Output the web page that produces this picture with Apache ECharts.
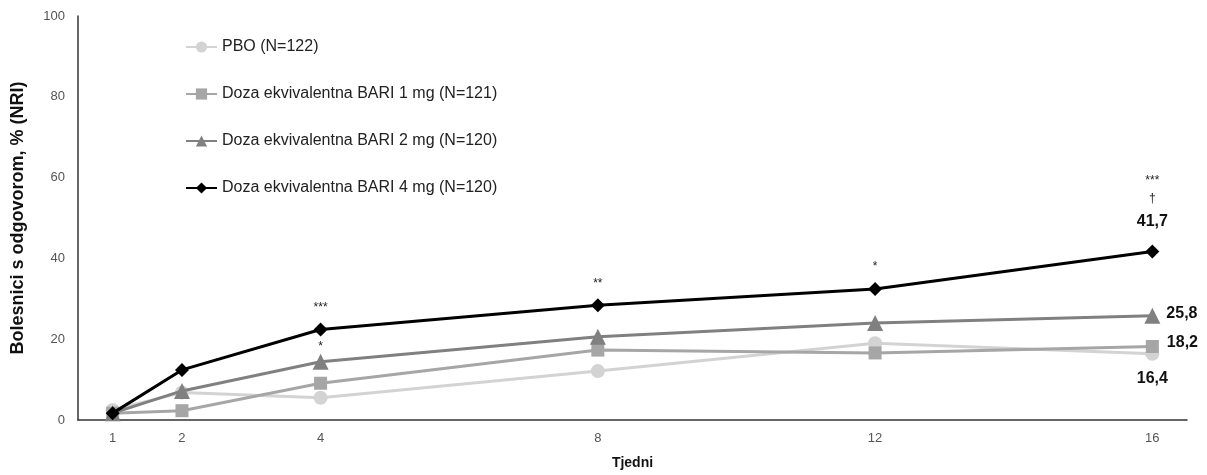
<!DOCTYPE html>
<html><head><meta charset="utf-8">
<script src="https://cdn.jsdelivr.net/npm/echarts@6/dist/echarts.min.js"></script>
<style>html,body{margin:0;padding:0;background:#fff}#c{width:1207px;height:475px}</style>
</head><body><div id="c"></div>
<script>
const weeks = [1, 2, 4, 8, 12, 16];
const xTickLabels = [1, 2, 4, 8, 12, 16];
const yTicks = [0, 20, 40, 60, 80, 100];
const seriesNames = ['PBO (N=122)', 'Doza ekvivalentna BARI 1 mg (N=121)', 'Doza ekvivalentna BARI 2 mg (N=120)', 'Doza ekvivalentna BARI 4 mg (N=120)'];
const pbo = [2.5, 6.8, 5.5, 12.1, 19.0, 16.4];
const bari1 = [1.7, 2.3, 9.1, 17.3, 16.6, 18.2];
const bari2 = [1.7, 7.2, 14.4, 20.6, 24.0, 25.8];
const bari4 = [1.7, 12.4, 22.4, 28.4, 32.4, 41.7];
// annotations (significance marks) per week
const bari4Marks = ['', '', '***', '**', '*', '***\n†'];
const bari2Marks = ['', '', '*', '', '', ''];
const endLabels = ['16,4', '18,2', '25,8', '41,7'];

const colors = ['#d3d3d3', '#a6a6a6', '#808080', '#000000'];
const symbols = ['circle', 'rect', 'triangle', 'diamond'];
const sizes = [14, 13, 16, 14];
const values = [pbo, bari1, bari2, bari4];
const font = 'Liberation Sans, Arial, sans-serif';
const endStyle = { fontSize: 16, fontWeight: 'bold', color: '#111' };

function buildData(si) {
  return values[si].map((v, i) => {
    const item = { value: [weeks[i], v] };
    const last = i === weeks.length - 1;
    if (si === 3) {
      if (last) {
        item.label = { show: true, position: 'top', distance: 9, formatter: '{m|***}\n{m|†}\n{b|' + endLabels[3] + '}',
          rich: { m: { fontSize: 12, color: '#222', lineHeight: 18, fontFamily: font }, b: { fontSize: 16, fontWeight: 'bold', color: '#111', lineHeight: 28, fontFamily: font } } };
      } else if (bari4Marks[i]) {
        item.label = { show: true, position: 'top', distance: 9, formatter: bari4Marks[i], fontSize: 12, color: '#222' };
      }
    } else if (si === 2) {
      if (last) item.label = Object.assign({ show: true, position: 'right', distance: 6, formatter: endLabels[2], offset: [0, -2] }, endStyle);
      else if (bari2Marks[i]) item.label = { show: true, position: 'top', distance: 1, formatter: bari2Marks[i], fontSize: 12, color: '#222' };
    } else if (si === 1) {
      if (last) item.label = Object.assign({ show: true, position: 'right', distance: 8, formatter: endLabels[1], offset: [0, -4] }, endStyle);
    } else if (si === 0) {
      if (last) item.label = Object.assign({ show: true, position: 'bottom', distance: 10, formatter: endLabels[0] }, endStyle);
    }
    return item;
  });
}

const chart = echarts.init(document.getElementById('c'));
chart.setOption({
  animation: false,
  textStyle: { fontFamily: font },
  grid: { left: 78, right: 20, top: 16, bottom: 55 },
  legend: {
    orient: 'vertical', left: 180, top: 34,
    itemWidth: 31, itemHeight: 14, itemGap: 31,
    textStyle: { fontSize: 16, color: '#222', fontFamily: font },
    data: seriesNames
  },
  xAxis: {
    type: 'value', min: 0.5, max: 16.5,
    name: 'Tjedni', nameLocation: 'middle', nameGap: 36,
    nameTextStyle: { fontSize: 14, fontWeight: 'bold', color: '#111' },
    axisLine: { show: true, lineStyle: { color: '#333', width: 1.5 } },
    axisTick: { show: false },
    splitLine: { show: false },
    axisLabel: { customValues: xTickLabels, fontSize: 13, color: '#555', margin: 12 }
  },
  yAxis: {
    type: 'value', min: 0, max: 100, interval: 20,
    name: 'Bolesnici s odgovorom, % (NRI)', nameLocation: 'middle', nameGap: 51,
    nameTextStyle: { fontSize: 18, fontWeight: 'bold', color: '#111' },
    axisLine: { show: true, lineStyle: { color: '#333', width: 1.5 } },
    axisTick: { show: false },
    splitLine: { show: false },
    axisLabel: { fontSize: 13, color: '#555', margin: 13, formatter: v => yTicks.includes(v) ? String(v) : '' }
  },
  series: seriesNames.map((n, si) => ({
    name: n, type: 'line', data: buildData(si),
    symbol: symbols[si], symbolSize: sizes[si],
    z: 2 + si,
    lineStyle: { color: colors[si], width: 3 },
    itemStyle: { color: colors[si] },
    emphasis: { disabled: true }
  }))
});
</script></body></html>
